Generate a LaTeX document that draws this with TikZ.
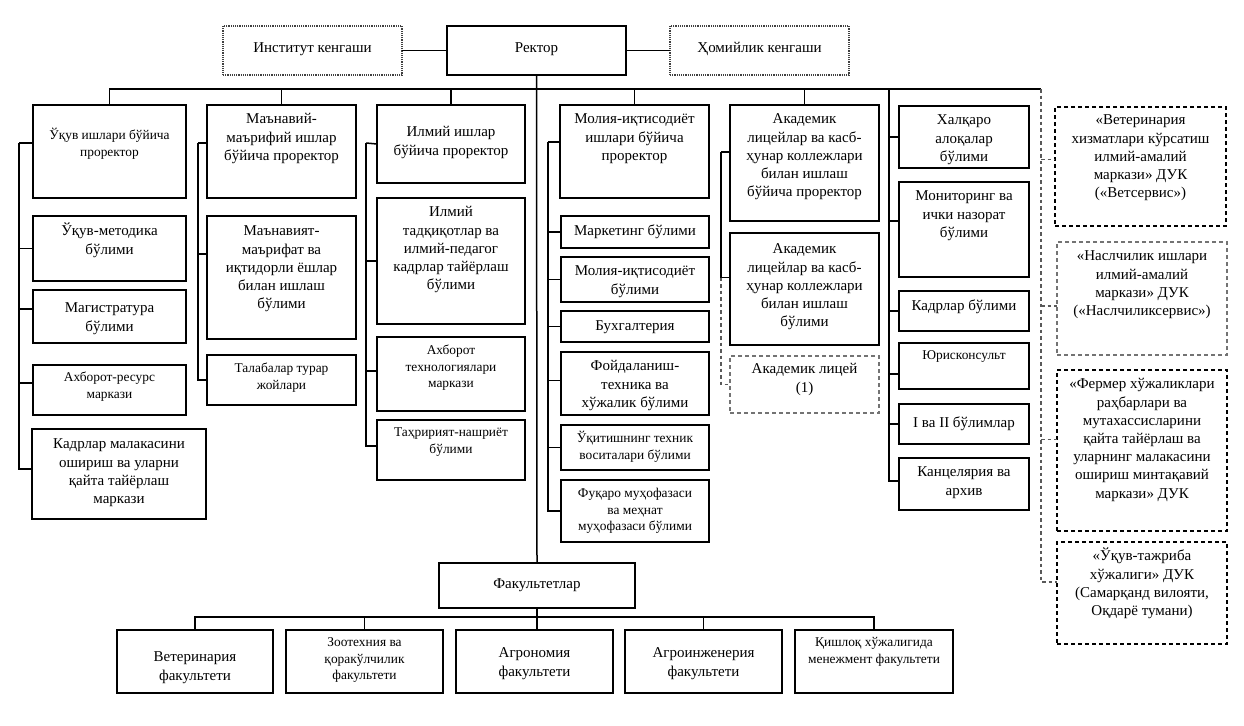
\documentclass[tikz,border=0pt]{standalone}
\usepackage{fontspec}
\setmainfont{Liberation Serif}
\newcommand{\fmain}{\fontsize{15}{18.2}\selectfont}
\newcommand{\fsm}{\fontsize{13.4}{16.4}\selectfont}
% #1 offset of first line, #2 name, #3 box style, #4 text style, #5 x1, #6 y1, #7 x2, #8 y2, #9 text
\newcommand{\bx}[9][15]{%
  \node[#3, minimum width={(#7-#5)*1pt}, minimum height={(#8-#6)*1pt}, anchor=north west] (#2) at (#5,#6) {};
  \node[#4, anchor=north] (#2t) at ([yshift={(9-#1)*1pt}]#2.north) {\strut #9};
}
\tikzset{
 box/.style={draw=black, line width=1.6pt, inner sep=0pt, outer sep=0pt},
 dbox/.style={draw=black, line width=1.5pt, dash pattern=on 4pt off 3pt, inner sep=0pt, outer sep=0pt},
 gbox/.style={draw=black!55, line width=1.1pt, dash pattern=on 4pt off 3pt, inner sep=0pt, outer sep=0pt},
 pbox/.style={draw=black!75, line width=1.1pt, dash pattern=on 1.2pt off 1pt, inner sep=0pt, outer sep=0pt},
 tm/.style={inner sep=0pt, align=center, font=\fmain},
 ts/.style={inner sep=0pt, align=center, font=\fsm},
 conn/.style={draw=black, line width=1.5pt},
 dconn/.style={draw=black!65, line width=1.1pt, dash pattern=on 3.5pt off 3pt},
}
\begin{document}
\begin{tikzpicture}[x=1pt,y=-1pt]
\useasboundingbox[fill=white] (0,0) rectangle (1244,725);

% top row
\bx[23]{inst}{pbox}{tm}{223}{26}{402}{75}{Институт кенгаши}
\bx[23]{rek}{box}{tm}{447}{26}{626}{75}{Ректор}
\bx[23]{hom}{pbox}{tm}{670}{26}{849}{75}{Ҳомийлик кенгаши}

% column 1
\bx[32]{uqpro}{box}{ts}{33}{105}{186}{198}{Ўқув ишлари бўйича\\проректор}
\bx[16]{uqmet}{box}{tm}{33}{216}{186}{281}{Ўқув-методика\\бўлими}
\bx[19]{mag}{box}{tm}{33}{290}{186}{343}{Магистратура\\бўлими}
\bx[14]{axr}{box}{ts}{33}{365}{186}{415}{Ахборот-ресурс\\маркази}
\bx[16]{kmal}{box}{tm}{32}{429}{206}{519}{Кадрлар малакасини\\ошириш ва уларни\\қайта тайёрлаш\\маркази}

% column 2
\bx[15]{mpro}{box}{tm}{207}{105}{356}{198}{Маънавий-\\маърифий ишлар\\бўйича проректор}
\bx[16]{mbul}{box}{tm}{207}{216}{356}{339}{Маънавият-\\маърифат ва\\иқтидорли ёшлар\\билан ишлаш\\бўлими}
\bx[15]{tal}{box}{ts}{207}{355}{356}{405}{Талабалар турар\\жойлари}

% column 3
\bx[28]{ipro}{box}{tm}{377}{105}{525}{183}{Илмий ишлар\\бўйича проректор}
\bx[15]{itad}{box}{tm}{377}{198}{525}{324}{Илмий\\тадқиқотлар ва\\илмий-педагог\\кадрлар тайёрлаш\\бўлими}
\bx[15]{atex}{box}{ts}{377}{337}{525}{411}{Ахборот\\технологиялари\\маркази}
\bx[14]{tah}{box}{ts}{377}{420}{525}{480}{Таҳририят-нашриёт\\бўлими}

% column 4
\bx[15]{mopro}{box}{tm}{560}{105}{709}{198}{Молия-иқтисодиёт\\ишлари бўйича\\проректор}
\bx[16]{mark}{box}{tm}{561}{216}{709}{248}{Маркетинг бўлими}
\bx[15]{mob}{box}{tm}{561}{257}{709}{302}{Молия-иқтисодиёт\\бўлими}
\bx[16]{bux}{box}{tm}{561}{311}{709}{342}{Бухгалтерия}
\bx[15]{foy}{box}{tm}{561}{352}{709}{415}{Фойдаланиш-\\техника ва\\хўжалик бўлими}
\bx[15]{uqit}{box}{ts}{561}{425}{709}{470}{Ўқитишнинг техник\\воситалари бўлими}
\bx[15]{fuq}{box}{ts}{561}{480}{709}{542}{Фуқаро муҳофазаси\\ва меҳнат\\муҳофазаси бўлими}

% column 5
\bx[15]{apro}{box}{tm}{730}{105}{879}{221}{Академик\\лицейлар ва касб-\\ҳунар коллежлари\\билан ишлаш\\бўйича проректор}
\bx[17]{abul}{box}{tm}{730}{233}{879}{345}{Академик\\лицейлар ва касб-\\ҳунар коллежлари\\билан ишлаш\\бўлими}
\bx[14]{alic}{gbox}{tm}{730}{356}{879}{413}{Академик лицей\\(1)}

% column 6
\bx[15]{xal}{box}{tm}{899}{106}{1029}{168}{Халқаро\\алоқалар\\бўлими}
\bx[15]{mon}{box}{tm}{899}{182}{1029}{277}{Мониторинг ва\\ички назорат\\бўлими}
\bx[16]{kad}{box}{tm}{899}{291}{1029}{331}{Кадрлар бўлими}
\bx[14]{yur}{box}{ts}{899}{343}{1029}{389}{Юрисконсульт}
\bx[20]{iii}{box}{tm}{899}{404}{1029}{444}{I ва II бўлимлар}
\bx[15]{kan}{box}{tm}{899}{458}{1029}{510}{Канцелярия ва\\архив}

% right column
\bx[14]{vet}{dbox}{tm}{1055}{107}{1226}{226}{«Ветеринария\\хизматлари кўрсатиш\\илмий-амалий\\маркази» ДУК\\(«Ветсервис»)}
\bx[15]{nas}{gbox}{tm}{1057}{242}{1227}{355}{«Наслчилик ишлари\\илмий-амалий\\маркази» ДУК\\(«Наслчиликсервис»)}
\bx[15]{fer}{dbox}{tm}{1057}{370}{1227}{531}{«Фермер хўжаликлари\\раҳбарлари ва\\мутахассисларини\\қайта тайёрлаш ва\\уларнинг малакасини\\ошириш минтақавий\\маркази» ДУК}
\bx[15]{uqt}{dbox}{tm}{1057}{542}{1227}{644}{«Ўқув-тажриба\\хўжалиги» ДУК\\(Самарқанд вилояти,\\Оқдарё тумани)}

% faculties
\bx[22]{fak}{box}{tm}{439}{563}{635}{608}{Факультетлар}
\bx[28]{fa}{box}{tm}{117}{630}{273}{693}{Ветеринария\\факультети}
\bx[14]{fb}{box}{ts}{286}{630}{443}{693}{Зоотехния ва\\қоракўлчилик\\факультети}
\bx[24]{fc}{box}{tm}{456}{630}{613}{693}{Агрономия\\факультети}
\bx[24]{fd}{box}{tm}{625}{630}{782}{693}{Агроинженерия\\факультети}
\bx[14]{fe}{box}{ts}{795}{630}{953}{693}{Қишлоқ хўжалигида\\менежмент факультети}

% coordinates of buses
\coordinate (bus) at (889,89);
\coordinate (busR) at (1041,89);
\coordinate (v1) at (19,143);
\coordinate (v2) at (198,143);
\coordinate (v3) at (366,143);
\coordinate (v4) at (548,142);
\coordinate (v5) at (721,152);

% top connectors
\draw[conn] (inst.east) -- (rek.west);
\draw[conn] (rek.east) -- (hom.west);
\draw[conn] (rek.south) -- (fak.north);

% main bus
\draw[conn] (uqpro.north) |- (bus) -- (busR);
\draw[conn] (mpro.north) -- (mpro.north |- bus);
\draw[conn] (ipro.north) -- (ipro.north |- bus);
\draw[conn] (mopro.north) -- (mopro.north |- bus);
\draw[conn] (apro.north) -- (apro.north |- bus);

% column 1
\draw[conn] (v1) -- ([yshift=8.5pt]uqpro.west);
\draw[conn] (v1) |- (uqmet.west);
\draw[conn] (v1) |- ([yshift=7.5pt]mag.west);
\draw[conn] (v1) |- ([yshift=7pt]axr.west);
\draw[conn] (v1) |- ([yshift=5pt]kmal.west);

% column 2
\draw[conn] (v2) -- ([yshift=8.5pt]mpro.west);
\draw[conn] (v2) |- ([yshift=23.5pt]mbul.west);
\draw[conn] (v2) |- (tal.west);

% column 3
\draw[conn] (v3) -- (ipro.west);
\draw[conn] (v3) |- (itad.west);
\draw[conn] (v3) |- ([yshift=3pt]atex.west);
\draw[conn] (v3) |- ([yshift=4pt]tah.west);

% column 4
\draw[conn] (v4) -- ([yshift=9.5pt]mopro.west);
\draw[conn] (v4) |- (mark.west);
\draw[conn] (v4) |- (mob.west);
\draw[conn] (v4) |- (bux.west);
\draw[conn] (v4) |- ([yshift=3pt]foy.west);
\draw[conn] (v4) |- (uqit.west);
\draw[conn] (v4) |- (fuq.west);

% column 5
\draw[conn] (v5) -- ([yshift=11pt]apro.west);
\draw[conn] (v5) |- ([yshift=11.5pt]abul.west);
\draw[dconn] ([yshift=11.5pt]abul.west -| v5) |- (alic.west);

% column 6
\draw[conn] (bus) |- (xal.west);
\draw[conn] (bus) |- ([yshift=8.5pt]mon.west);
\draw[conn] (bus) |- (kad.west);
\draw[conn] (bus) |- ([yshift=-8pt]yur.west);
\draw[conn] (bus) |- (iii.west);
\draw[conn] (bus) |- ([yshift=3pt]kan.west);

% right dashed
\draw[dconn] (busR) |- ([yshift=11pt]uqt.west);
\draw[dconn] ([yshift=7pt]vet.west -| busR) -- ([yshift=7pt]vet.west);
\draw[dconn] ([yshift=-7.5pt]nas.west -| busR) -- ([yshift=-7.5pt]nas.west);
\draw[dconn] ([yshift=11pt]fer.west -| busR) -- ([yshift=11pt]fer.west);

% faculty bus
\draw[conn] (fa.north) -- ++(0,-13) -| (fe.north);
\draw[conn] (fb.north) -- ++(0,-13);
\draw[conn] (fd.north) -- ++(0,-13);
\draw[conn] (fak.south) -- (fak.south |- fc.north);
\end{tikzpicture}
\end{document}
